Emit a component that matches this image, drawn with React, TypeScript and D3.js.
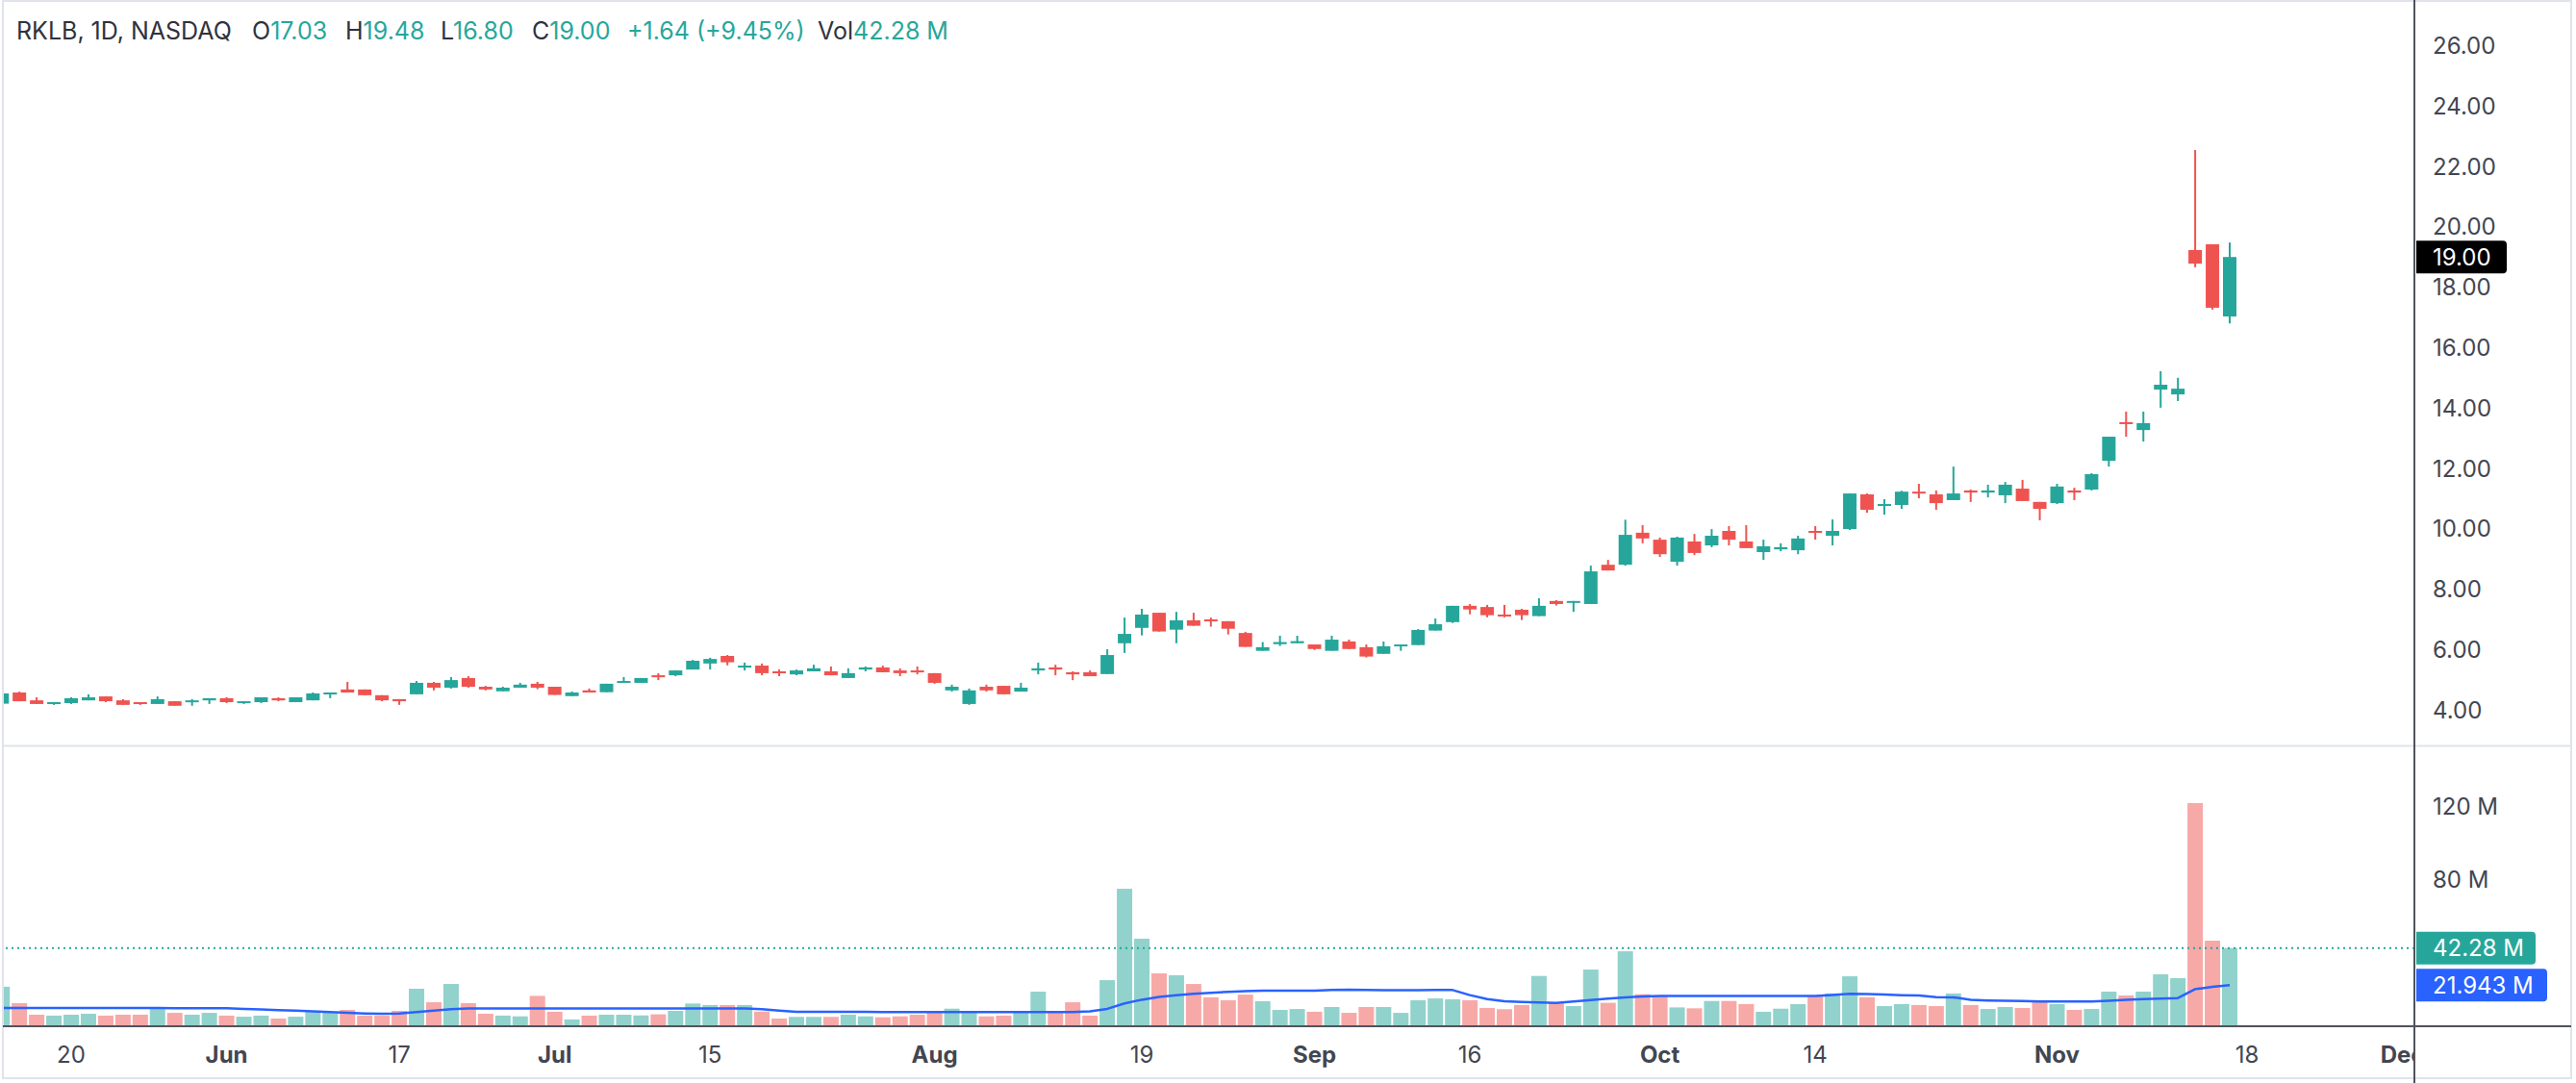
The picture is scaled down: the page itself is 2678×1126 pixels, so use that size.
import * as d3 from "d3";
import { useEffect } from "react";

const WIDTH = 2678;
const HEIGHT = 1126;
const AXIS_X = 2510;
const PRICE_TOP = 2;
const PRICE_BOTTOM = 774;
const VOL_TOP = 777;
const VOL_BOTTOM = 1066;

const UP = "#26a69a";
const DOWN = "#ef5350";
const UP_VOL = "#92d2cc";
const DOWN_VOL = "#f7a9a7";
const MA_COLOR = "#2962ff";
const TEXT = "#434651";
const FONT = "Inter, 'Noto Sans', sans-serif";

// Daily bars, May 14 – Nov 15 2024 (index 0 is the partly hidden bar at the left edge).
const OPEN = [
  4.21, 4.58, 4.32, 4.2, 4.23, 4.32, 4.45, 4.32, 4.26, 4.2, 4.29, 4.26, 4.32, 4.39, 4.23, 4.26, 4.39, 4.26, 4.32, 4.52,
  4.68, 4.68, 4.49, 4.36, 4.52, 4.9, 4.74, 5.06, 4.77, 4.62, 4.74, 4.87, 4.77, 4.46, 4.65, 4.59, 4.9, 4.9, 5.15, 5.15,
  5.34, 5.54, 5.79, 5.41, 5.47, 5.28, 5.18, 5.28, 5.28, 5.06, 5.34, 5.41, 5.31, 5.31, 5.22, 4.65, 4.2, 4.77, 4.8, 4.61,
  5.31, 5.41, 5.25, 5.25, 5.19, 6.21, 6.72, 7.22, 6.66, 6.97, 7.0, 6.94, 6.55, 5.96, 6.18, 6.21, 6.17, 5.96, 6.27, 6.08,
  5.86, 6.12, 6.15, 6.63, 6.91, 7.45, 7.41, 7.16, 7.32, 7.11, 7.61, 7.55, 7.51, 8.81, 8.81, 9.87, 9.64, 8.91, 9.58, 9.45,
  9.93, 9.58, 9.23, 9.32, 9.29, 9.93, 9.77, 9.99, 11.14, 10.76, 10.79, 11.23, 11.14, 10.95, 11.27, 11.2, 11.11, 11.33, 10.89, 10.85,
  11.27, 11.3, 12.25, 13.53, 13.27, 14.61, 14.45, 19.23, 19.42, 17.03,
];
const HIGH = [
  4.55, 4.61, 4.42, 4.26, 4.42, 4.52, 4.45, 4.36, 4.26, 4.45, 4.29, 4.36, 4.39, 4.42, 4.29, 4.42, 4.42, 4.42, 4.58, 4.58,
  4.93, 4.68, 4.49, 4.36, 4.96, 4.93, 5.09, 5.12, 4.8, 4.77, 4.9, 4.93, 4.77, 4.61, 4.71, 4.87, 5.09, 5.06, 5.22, 5.31,
  5.66, 5.73, 5.82, 5.57, 5.54, 5.34, 5.34, 5.5, 5.44, 5.38, 5.44, 5.47, 5.38, 5.44, 5.22, 4.84, 4.71, 4.84, 4.8, 4.9,
  5.57, 5.5, 5.28, 5.31, 6.01, 7.06, 7.35, 7.22, 7.25, 7.22, 7.06, 6.94, 6.59, 6.25, 6.46, 6.46, 6.17, 6.46, 6.33, 6.17,
  6.27, 6.17, 6.68, 7.03, 7.45, 7.51, 7.48, 7.48, 7.35, 7.7, 7.64, 7.61, 8.78, 8.97, 10.3, 10.12, 9.71, 9.74, 9.83, 9.99,
  10.09, 10.12, 9.64, 9.52, 9.77, 10.09, 10.31, 11.17, 11.17, 10.98, 11.26, 11.49, 11.27, 12.06, 11.3, 11.46, 11.55, 11.62, 10.89, 11.49,
  11.36, 11.84, 13.05, 13.88, 13.88, 15.22, 15.0, 22.54, 19.42, 19.48,
];
const LOW = [
  4.21, 4.29, 4.2, 4.17, 4.2, 4.32, 4.26, 4.17, 4.17, 4.2, 4.14, 4.14, 4.2, 4.23, 4.2, 4.23, 4.29, 4.26, 4.32, 4.39,
  4.58, 4.49, 4.29, 4.17, 4.52, 4.65, 4.71, 4.74, 4.65, 4.62, 4.74, 4.69, 4.5, 4.46, 4.58, 4.59, 4.9, 4.9, 4.99, 5.12,
  5.34, 5.34, 5.48, 5.31, 5.15, 5.12, 5.15, 5.28, 5.15, 5.06, 5.28, 5.25, 5.12, 5.18, 4.87, 4.61, 4.17, 4.61, 4.52, 4.61,
  5.18, 5.15, 4.99, 5.12, 5.19, 5.89, 6.47, 6.6, 6.21, 6.79, 6.76, 6.5, 6.09, 5.96, 6.12, 6.21, 5.99, 5.96, 6.02, 5.74,
  5.86, 5.96, 6.15, 6.63, 6.88, 7.17, 7.07, 7.07, 6.98, 7.11, 7.46, 7.25, 7.51, 8.62, 8.78, 9.52, 9.07, 8.78, 9.13, 9.39,
  9.45, 9.36, 8.97, 9.26, 9.16, 9.64, 9.45, 9.96, 10.53, 10.47, 10.66, 11.01, 10.63, 10.95, 10.89, 11.04, 10.85, 10.92, 10.28, 10.82,
  10.95, 11.27, 12.06, 13.05, 12.89, 14.01, 14.23, 18.66, 17.26, 16.8,
];
const CLOSE = [
  4.55, 4.29, 4.2, 4.26, 4.39, 4.42, 4.29, 4.17, 4.2, 4.36, 4.14, 4.32, 4.39, 4.26, 4.29, 4.42, 4.32, 4.42, 4.55, 4.58,
  4.58, 4.49, 4.32, 4.29, 4.9, 4.74, 4.99, 4.77, 4.68, 4.74, 4.84, 4.74, 4.5, 4.58, 4.58, 4.87, 4.96, 5.06, 5.09, 5.31,
  5.63, 5.69, 5.58, 5.47, 5.22, 5.22, 5.31, 5.38, 5.15, 5.22, 5.41, 5.25, 5.22, 5.25, 4.9, 4.77, 4.65, 4.65, 4.52, 4.74,
  5.38, 5.34, 5.18, 5.12, 5.82, 6.52, 7.16, 6.6, 6.97, 6.79, 6.94, 6.69, 6.09, 6.08, 6.25, 6.28, 6.02, 6.33, 6.02, 5.77,
  6.11, 6.17, 6.65, 6.84, 7.45, 7.33, 7.14, 7.11, 7.14, 7.45, 7.51, 7.61, 8.59, 8.62, 9.8, 9.68, 9.16, 9.71, 9.2, 9.77,
  9.64, 9.36, 9.42, 9.39, 9.68, 9.87, 9.93, 11.17, 10.63, 10.82, 11.23, 11.17, 10.85, 11.17, 11.2, 11.27, 11.46, 10.92, 10.66, 11.4,
  11.2, 11.81, 13.05, 13.47, 13.5, 14.77, 14.64, 18.78, 17.32, 19.0,
];
// Volume in millions of shares.
const VOLUME = [
  21.1, 12.1, 5.8, 5.3, 5.8, 6.3, 5.3, 5.8, 5.8, 8.9, 6.8, 5.8, 6.8, 5.3, 4.7, 5.3, 3.7, 4.7, 7.4, 7.4,
  8.4, 5.3, 5.3, 7.9, 20.0, 12.6, 22.6, 12.1, 6.3, 5.3, 4.9, 16.1, 7.4, 3.2, 5.3, 5.8, 5.8, 5.4, 6.0, 7.9,
  11.9, 11.1, 11.1, 11.1, 7.5, 3.7, 4.6, 4.6, 4.6, 5.8, 4.9, 4.4, 4.9, 5.8, 7.4, 9.1, 7.7, 4.9, 5.3, 7.4,
  18.4, 7.4, 12.6, 5.3, 24.7, 74.7, 47.4, 28.4, 27.4, 22.6, 15.3, 13.7, 16.8, 13.2, 8.4, 8.9, 7.4, 10.0, 6.8, 10.0,
  10.0, 6.8, 13.7, 14.7, 14.2, 13.7, 9.5, 8.8, 11.1, 27.0, 12.3, 10.5, 30.5, 12.3, 40.5, 17.0, 15.8, 9.8, 9.3, 13.3,
  13.3, 11.6, 7.4, 9.1, 11.6, 16.3, 17.4, 26.8, 15.3, 10.5, 11.6, 11.1, 10.5, 17.4, 11.1, 8.9, 10.0, 9.5, 13.7, 11.6,
  8.4, 8.9, 18.4, 16.3, 18.4, 27.9, 25.8, 121.6, 46.3, 42.28,
];
// Volume moving average (millions), as drawn by the blue line.
const VOLUME_MA = [
  9.5, 9.5, 9.5, 9.5, 9.5, 9.5, 9.5, 9.5, 9.5, 9.5, 9.3, 9.3, 9.3, 9.3, 9.0, 8.7, 8.3, 8.0, 7.6, 7.3,
  6.8, 6.5, 6.3, 6.5, 7.3, 8.0, 8.8, 9.2, 9.2, 9.2, 9.2, 9.2, 9.2, 9.2, 9.2, 9.2, 9.2, 9.2, 9.2, 9.2,
  9.2, 9.2, 9.2, 9.2, 8.8, 8.0, 7.4, 7.4, 7.4, 7.4, 7.4, 7.2, 7.2, 7.2, 7.2, 7.2, 7.2, 7.2, 7.2, 7.2,
  7.2, 7.2, 7.2, 7.6, 9.0, 12.0, 14.0, 15.5, 16.5, 17.3, 17.8, 18.3, 18.7, 18.9, 19.0, 19.0, 19.0, 19.3, 19.5, 19.4,
  19.2, 19.2, 19.2, 19.4, 19.3, 16.5, 14.3, 13.2, 12.8, 12.5, 12.3, 13.0, 13.8, 14.6, 15.2, 15.8, 16.1, 16.1, 16.1, 16.1,
  16.1, 16.1, 16.1, 16.1, 16.1, 16.0, 16.6, 17.2, 17.1, 16.8, 16.5, 16.3, 15.4, 15.3, 14.0, 13.6, 13.4, 13.3, 13.0, 13.0,
  13.0, 13.0, 13.4, 13.9, 14.4, 14.6, 14.9, 19.8, 21.0, 21.943,
];

const PRICE_TICKS = [4, 6, 8, 10, 12, 14, 16, 18, 20, 22, 24, 26];
const VOLUME_TICKS = [80, 120];
const TIME_TICK_BARS = [4, 13, 23, 32, 41, 54, 66, 76, 85, 96, 105, 119, 130, 139];
const TIME_TICK_LABELS = ["20", "Jun", "17", "Jul", "15", "Aug", "19", "Sep", "16", "Oct", "14", "Nov", "18", "Dec"];
const MONTH_LABELS = ["Jun", "Jul", "Aug", "Sep", "Oct", "Nov", "Dec"];

const LAST_PRICE = 19.0;
const LAST_CHANGE = 1.64;
const LAST_CHANGE_PCT = 9.45;
const LAST_VOLUME = 42.28;
const LAST_MA = 21.943;

const x = d3.scaleLinear().domain([0, 139]).range([2.2, 2.2 + 139 * 17.952]);
const yPrice = d3.scaleLinear().domain([4, 26]).range([738.2, 47.4]);
const yVol = d3.scaleLinear().domain([0, 120]).range([VOL_BOTTOM, 838]);

const BODY_W = 14;
const VOL_W = 16;

function Candles() {
  return (
    <g clipPath="url(#price-clip)">
      {OPEN.map((o, i) => {
        const c = CLOSE[i];
        const color = c >= o ? UP : DOWN;
        const cx = x(i);
        const top = yPrice(Math.max(o, c));
        const bottom = yPrice(Math.min(o, c));
        return (
          <g key={i}>
            <rect x={cx - 1} y={yPrice(HIGH[i])} width={2} height={yPrice(LOW[i]) - yPrice(HIGH[i])} fill={color} />
            <rect x={cx - BODY_W / 2} y={top} width={BODY_W} height={Math.max(2, bottom - top)} fill={color} />
          </g>
        );
      })}
    </g>
  );
}

function Volume() {
  const line = d3
    .line<number>()
    .x((_, i) => x(i))
    .y((d) => yVol(d));
  return (
    <g clipPath="url(#vol-clip)">
      {VOLUME.map((v, i) => (
        <rect
          key={i}
          x={x(i) - VOL_W / 2}
          y={yVol(v)}
          width={VOL_W}
          height={yVol(0) - yVol(v)}
          fill={CLOSE[i] >= OPEN[i] ? UP_VOL : DOWN_VOL}
        />
      ))}
      <line x1={0} x2={AXIS_X} y1={yVol(LAST_VOLUME)} y2={yVol(LAST_VOLUME)} stroke={UP} strokeWidth={2} strokeDasharray="2 4" />
      <path d={line(VOLUME_MA) ?? ""} fill="none" stroke={MA_COLOR} strokeWidth={2.5} strokeLinejoin="round" />
    </g>
  );
}

function Header() {
  const n = OPEN.length - 1;
  const items: [string, string, number][] = [
    ["O", OPEN[n].toFixed(2), 262],
    ["H", HIGH[n].toFixed(2), 359],
    ["L", LOW[n].toFixed(2), 458],
    ["C", CLOSE[n].toFixed(2), 553],
  ];
  return (
    <g fontFamily={FONT} fontSize={25} dominantBaseline="central">
      <text x={17} y={32} fill="#2f323c">
        RKLB, 1D, NASDAQ
      </text>
      {items.map(([k, v, px]) => (
        <text key={k} x={px} y={32} fill="#2f323c">
          {k}
          <tspan fill={UP}>{v}</tspan>
        </text>
      ))}
      <text x={652} y={32} fill={UP}>
        {`+${LAST_CHANGE.toFixed(2)} (+${LAST_CHANGE_PCT.toFixed(2)}%)`}
      </text>
      <text x={850} y={32} fill="#2f323c">
        Vol<tspan fill={UP}>{`${LAST_VOLUME.toFixed(2)} M`}</tspan>
      </text>
    </g>
  );
}

function Axes() {
  return (
    <g fontFamily={FONT} fontSize={24} fill={TEXT}>
      {PRICE_TICKS.map((t) => (
        <text key={t} x={2529} y={yPrice(t)} dominantBaseline="central">
          {t.toFixed(2)}
        </text>
      ))}
      {VOLUME_TICKS.map((t) => (
        <text key={t} x={2529} y={yVol(t)} dominantBaseline="central">
          {`${t} M`}
        </text>
      ))}
      <g clipPath="url(#time-clip)">
        {TIME_TICK_BARS.map((b, i) => (
          <text
            key={b}
            x={x(b)}
            y={1096}
            textAnchor="middle"
            dominantBaseline="central"
            fontWeight={MONTH_LABELS.includes(TIME_TICK_LABELS[i]) ? 700 : 400}
          >
            {TIME_TICK_LABELS[i]}
          </text>
        ))}
      </g>
      {/* last value badges */}
      <path d={`M${AXIS_X + 2},${yPrice(LAST_PRICE) - 17} h90 a4,4 0 0 1 4,4 v26 a4,4 0 0 1 -4,4 h-90 z`} fill="#000" />
      <text x={2529} y={yPrice(LAST_PRICE)} dominantBaseline="central" fill="#fff">
        {LAST_PRICE.toFixed(2)}
      </text>
      <path d={`M${AXIS_X + 2},${yVol(LAST_VOLUME) - 17} h120 a4,4 0 0 1 4,4 v26 a4,4 0 0 1 -4,4 h-120 z`} fill={UP} />
      <text x={2529} y={yVol(LAST_VOLUME)} dominantBaseline="central" fill="#fff">
        {`${LAST_VOLUME.toFixed(2)} M`}
      </text>
      <path d={`M${AXIS_X + 2},${yVol(LAST_MA) - 17} h132 a4,4 0 0 1 4,4 v26 a4,4 0 0 1 -4,4 h-132 z`} fill={MA_COLOR} />
      <text x={2529} y={yVol(LAST_MA)} dominantBaseline="central" fill="#fff">
        {`${LAST_MA.toFixed(3)} M`}
      </text>
    </g>
  );
}

export default function App() {
  useEffect(() => {
    document.body.style.margin = "0";
  }, []);
  return (
    <svg
      width={WIDTH}
      height={HEIGHT}
      viewBox={`0 0 ${WIDTH} ${HEIGHT}`}
      style={{ position: "absolute", left: 0, top: 0, background: "#fff" }}
    >
      <defs>
        <clipPath id="price-clip">
          <rect x={4} y={PRICE_TOP} width={AXIS_X - 5} height={PRICE_BOTTOM - PRICE_TOP} />
        </clipPath>
        <clipPath id="vol-clip">
          <rect x={4} y={VOL_TOP} width={AXIS_X - 5} height={VOL_BOTTOM - VOL_TOP} />
        </clipPath>
        <clipPath id="time-clip">
          <rect x={4} y={1068} width={AXIS_X - 5} height={52} />
        </clipPath>
      </defs>
      <rect x={0} y={0} width={WIDTH} height={HEIGHT} fill="#fff" />
      <Candles />
      <Volume />
      <rect x={3} y={1} width={2670} height={1120} fill="none" stroke="#e0e3eb" strokeWidth={2} />
      <line x1={3} x2={2673} y1={775.5} y2={775.5} stroke="#e0e3eb" strokeWidth={2} />
      <line x1={3} x2={2673} y1={1067} y2={1067} stroke="#50535e" strokeWidth={2} />
      <line x1={AXIS_X} x2={AXIS_X} y1={0} y2={HEIGHT} stroke="#50535e" strokeWidth={2} />
      <Header />
      <Axes />
    </svg>
  );
}
